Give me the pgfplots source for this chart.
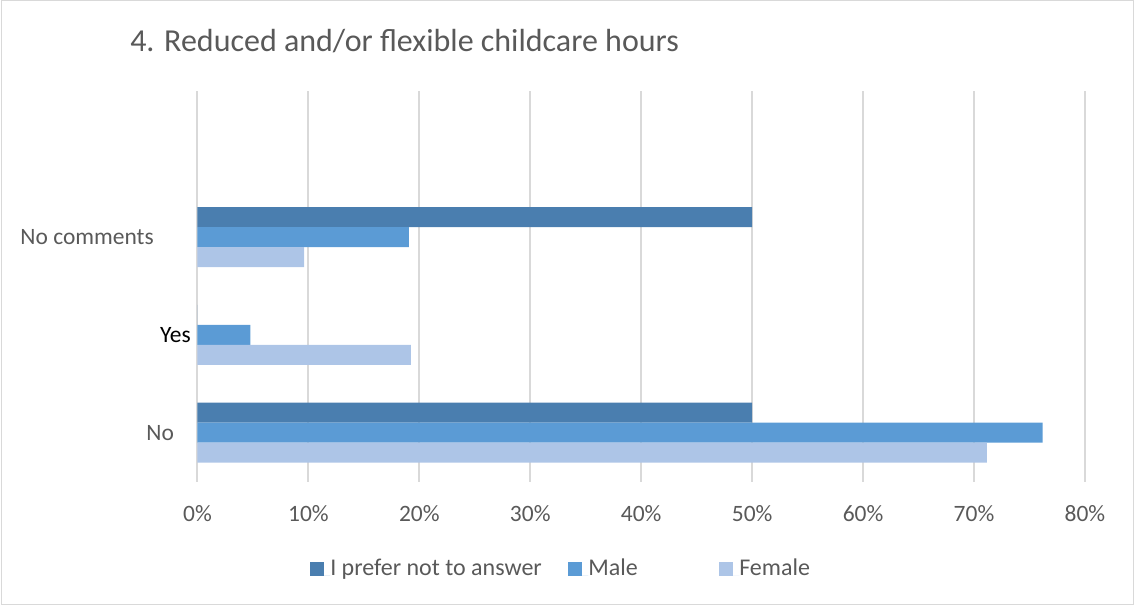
\documentclass[border=0pt]{standalone}
\usepackage{pgfplots}
\pgfplotsset{compat=1.18}
\usepackage{fontspec}
\setmainfont{Carlito}

\definecolor{txt}{HTML}{595959}
\definecolor{gridc}{HTML}{D9D9D9}
\definecolor{cprefer}{HTML}{4A7EAF}
\definecolor{cmale}{HTML}{5B9BD5}
\definecolor{cfemale}{HTML}{ADC5E7}

\begin{document}
\begin{tikzpicture}
% frame of the chart (1134 x 607 px, 1px = 0.75pt)
\path[use as bounding box] (0pt,0pt) rectangle (850.5pt,455.25pt);
\draw[gridc, line width=0.75pt] (0.75pt,2.25pt) rectangle (849.75pt,454.5pt);

\node[anchor=base west, inner sep=0pt, text=txt, font=\fontsize{24}{29}\selectfont]
  at (97.5pt,416.5pt) {4. Reduced and/or flexible childcare hours};

\begin{axis}[
  at={(148.1pt,94.1pt)}, anchor=south west,
  scale only axis, width=665.6pt, height=293.25pt,
  xbar, bar width=0.205,
  xmin=0, xmax=80, ymin=-0.5, ymax=3.5,
  xtick={0,10,...,80}, ytick={0,1,2},
  yticklabels={No\hspace*{12.5pt}, \textcolor{black}{Yes}, No comments\hspace*{27.7pt}},
  xticklabel={\pgfmathprintnumber{\tick}\%},
  /pgf/number format/assume math mode=true,
  xmajorgrids, grid style={gridc, line width=1.5pt},
  axis line style={draw=none}, major tick length=0pt,
  tick label style={text=txt, font=\fontsize{17.6}{21}\selectfont},
  xticklabel style={anchor=base, yshift=-29.6pt},
  yticklabel style={anchor=base east, inner sep=0pt, xshift=-4.9pt, yshift=-5.8pt},
  legend columns=3,
  legend style={at={(0.1268,-0.2212)}, anchor=west, draw=none, fill=none,
    inner sep=0pt, column sep=0pt, text=txt,
    font=\fontsize{18}{21}\selectfont,
    nodes={inner sep=0pt, anchor=base west}},
  legend image code/.code={%
    \fill[#1] (0pt,-0.8pt) rectangle (10.5pt,9.7pt);
    \path (0pt,0pt) -- (15pt,0pt);},
]
% I prefer not to answer
\addplot[fill=cprefer, draw=none, bar shift=0.205] coordinates {(50,0) (0,1) (50,2)};
% Male
\addplot[fill=cmale, draw=none, bar shift=0] coordinates {(76.19,0) (4.76,1) (19.05,2)};
% Female
\addplot[fill=cfemale, draw=none, bar shift=-0.205] coordinates {(71.15,0) (19.23,1) (9.62,2)};
\legend{\makebox[178.5pt][l]{I prefer not to answer}, \makebox[98.25pt][l]{Male}, Female}
\end{axis}
\end{tikzpicture}
\end{document}
